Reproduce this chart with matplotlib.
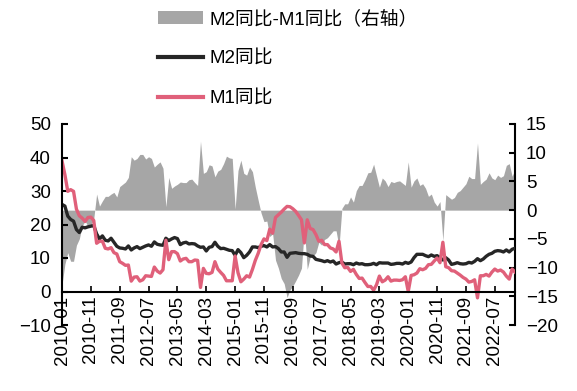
import numpy as np
import matplotlib
matplotlib.use("Agg")
import matplotlib.pyplot as plt
from matplotlib.patches import Patch
from matplotlib.lines import Line2D

plt.rcParams['font.family'] = ['Liberation Sans', 'Noto Sans CJK SC']

# monthly, 2010-01 .. 2023-02
m2 = [26.0, 25.5, 22.5, 21.5, 21.0, 18.5, 17.6, 19.2, 19.0, 19.3, 19.5, 19.7,
      17.2, 15.7, 16.6, 15.3, 15.1, 15.9, 14.7, 13.5, 13.0, 12.9, 12.7, 13.6,
      12.4, 13.0, 13.4, 12.8, 13.2, 13.6, 13.9, 13.5, 14.8, 14.1, 13.9, 13.8,
      15.9, 15.2, 15.7, 16.1, 15.8, 14.0, 14.5, 14.7, 14.2, 14.3, 14.2, 13.6,
      13.2, 13.3, 12.1, 13.2, 13.4, 14.7, 13.5, 12.8, 12.9, 12.6, 12.3, 12.2,
      10.8, 12.5, 11.6, 10.1, 10.8, 11.8, 13.3, 13.3, 13.1, 13.5, 13.7, 13.3,
      14.0, 13.3, 13.4, 12.8, 11.8, 11.8, 10.2, 11.4, 11.5, 11.6, 11.4, 11.3,
      11.3, 11.1, 10.6, 10.5, 9.6, 9.4, 9.2, 8.9, 9.2, 8.8, 9.1, 8.2,
      8.6, 8.8, 8.2, 8.3, 8.3, 8.0, 8.5, 8.2, 8.3, 8.0, 8.0, 8.1,
      8.4, 8.0, 8.6, 8.5, 8.5, 8.5, 8.1, 8.2, 8.4, 8.4, 8.2, 8.7,
      8.4, 8.8, 10.1, 11.1, 11.1, 11.1, 10.7, 10.4, 10.9, 10.5, 10.7, 10.1,
      9.4, 10.1, 9.4, 8.1, 8.3, 8.6, 8.3, 8.2, 8.3, 8.7, 8.5, 9.0,
      9.8, 9.2, 9.7, 10.5, 11.1, 11.4, 12.0, 12.2, 12.1, 11.8, 12.4, 11.8,
      12.6, 12.9]
m1 = [39.0, 34.9, 29.9, 30.4, 29.9, 24.6, 22.6, 21.9, 20.9, 22.1, 22.2, 21.2,
      14.4, 15.0, 15.0, 12.9, 12.7, 13.1, 11.6, 11.2, 8.9, 8.4, 7.8, 7.9,
      3.1, 4.3, 4.4, 3.1, 3.5, 4.7, 4.6, 4.5, 7.3, 6.1, 5.5, 6.5,
      15.3, 9.5, 11.9, 11.9, 11.3, 9.1, 9.7, 9.9, 8.9, 8.9, 9.4, 9.3,
      1.2, 6.9, 5.4, 5.3, 5.7, 8.9, 6.7, 5.7, 4.8, 3.2, 3.2, 3.2,
      10.6, 5.6, 2.9, 3.7, 4.7, 4.3, 6.6, 9.3, 11.4, 14.0, 15.7, 15.2,
      18.6, 17.4, 22.1, 22.9, 23.7, 24.6, 25.4, 25.3, 24.7, 23.9, 22.7, 21.4,
      14.5, 21.4, 18.8, 18.5, 17.0, 15.0, 15.3, 14.0, 14.0, 13.0, 12.7, 11.8,
      15.0, 8.5, 7.1, 7.2, 6.0, 6.6, 5.1, 3.9, 4.0, 2.7, 1.5, 1.5,
      0.4, 2.0, 4.6, 2.9, 3.4, 4.4, 3.1, 3.4, 3.4, 3.3, 3.5, 4.4,
      0.0, 4.8, 5.0, 5.5, 6.8, 6.5, 6.9, 8.0, 8.1, 9.1, 10.0, 8.6,
      14.7, 7.4, 7.1, 6.2, 6.1, 5.5, 4.9, 4.2, 3.7, 2.8, 3.0, 3.5,
      -1.9, 4.7, 4.7, 5.1, 4.6, 5.8, 6.7, 6.1, 6.4, 5.8, 4.6, 3.7,
      6.7, 5.8]

months = []
for y in range(2010, 2024):
    for m in range(1, 13):
        months.append('%d-%02d' % (y, m))
months = months[:len(m2)]

m2 = np.array(m2)
m1 = np.array(m1)
diff = m2 - m1
x = np.arange(len(m2))

gray = '#A6A6A6'
pink = '#E0607A'
black = '#262626'

fig = plt.figure(figsize=(5.77, 3.91), dpi=100)
ax = fig.add_axes([62/577, 1-325/391, (515-62)/577, (325-124)/391])
ax2 = ax.twinx()

ax2.fill_between(x, diff, 0, color=gray, lw=0)
ax.plot(x, m2, color=black, lw=2.4)
ax.plot(x, m1, color=pink, lw=2.4)

ax.set_zorder(ax2.get_zorder() + 1)
ax.patch.set_visible(False)

ax.set_xlim(0, len(m2) - 1)
ax.set_ylim(-10, 50)
ax.set_yticks(range(-10, 51, 10))
ax2.set_ylim(-20, 15)
ax2.set_yticks(range(-20, 16, 5))

ax.set_xticks(x[::10])
ax.set_xticklabels(months[::10])

for a in (ax, ax2):
    a.spines['top'].set_visible(False)
ax2.spines['bottom'].set_visible(False)
ax2.spines['left'].set_visible(False)
ax.spines['right'].set_visible(False)
ax.spines['bottom'].set_position(('data', 0))
for s in ('left', 'bottom'):
    ax.spines[s].set_linewidth(1.5)
ax2.spines['right'].set_linewidth(1.5)

ax.tick_params(axis='y', direction='in', length=4, width=1.5, labelsize=13.5, pad=8)
ax.tick_params(axis='x', direction='in', length=4, width=1.2, labelsize=13.5,
               pad=3, labelrotation=90)
ax2.tick_params(axis='y', direction='in', length=4, width=1.5, labelsize=13.5, pad=8)

handles = [Patch(facecolor=gray, edgecolor='none'),
           Line2D([], [], color=black, lw=3),
           Line2D([], [], color=pink, lw=3)]
labels = ['M2同比-M1同比（右轴）', 'M2同比', 'M1同比']
fig.legend(handles, labels, loc='upper left', bbox_to_anchor=(150/577, 1 - 3/391),
           frameon=False, fontsize=13.5, handlelength=2.45, handletextpad=0.3,
           labelspacing=1.2, borderaxespad=0.0)

fig.savefig('out.png', dpi=100)
